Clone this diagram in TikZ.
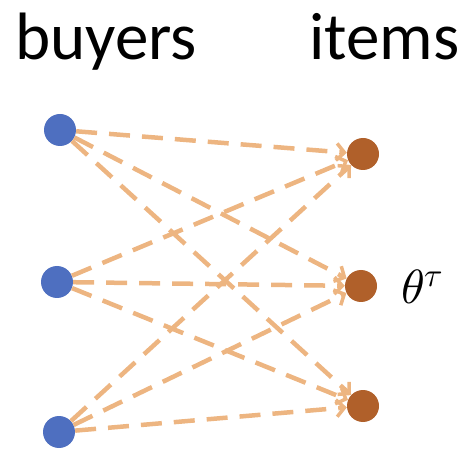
\documentclass[tikz,border=0pt]{standalone}
\usepackage{fontspec}
\usepackage{unicode-math}
\setmainfont{Carlito}
\setmathfont{Latin Modern Math}
\usetikzlibrary{arrows.meta}
\definecolor{buyerblue}{HTML}{4E6FC0}
\definecolor{itembrown}{HTML}{B0602A}
\definecolor{linkorange}{HTML}{EDB581}
\begin{document}
\begin{tikzpicture}[x=1pt,y=-1pt,
  buyer/.style={circle,fill=buyerblue,draw=none,minimum size=32pt,inner sep=0pt},
  item/.style={circle,fill=itembrown,draw=none,minimum size=32pt,inner sep=0pt},
  link/.style={draw=linkorange,line width=4.5pt,dash pattern=on 21pt off 12pt,
    -{Straight Barb[length=8pt,width=17pt,line width=3.5pt]}},
  heading/.style={inner sep=0pt,anchor=base west,font=\fontsize{67}{80}\selectfont}]
\useasboundingbox (0,0) rectangle (469,449);
% column headings
\node[heading] (hb) at (15,60) {buyers};
\node[heading] (hi) at (309,60) {items};
% buyers and items
\node[buyer] (b1) at (60,130) {};
\node[buyer] (b2) at (57,282) {};
\node[buyer] (b3) at (59,432) {};
\node[item] (i1) at (363,154) {};
\node[item] (i2) at (361,286) {};
\node[item] (i3) at (363,406) {};
% parameter label
\node[inner sep=0pt,anchor=base west,font=\fontsize{48}{56}\selectfont] (th) at (401,304) {$\theta^{\tau}$};
% complete bipartite links
\foreach \b in {b1,b2,b3}
  \foreach \i in {i1,i2,i3}
    \draw[link] (\b) -- (\i);
\end{tikzpicture}
\end{document}
